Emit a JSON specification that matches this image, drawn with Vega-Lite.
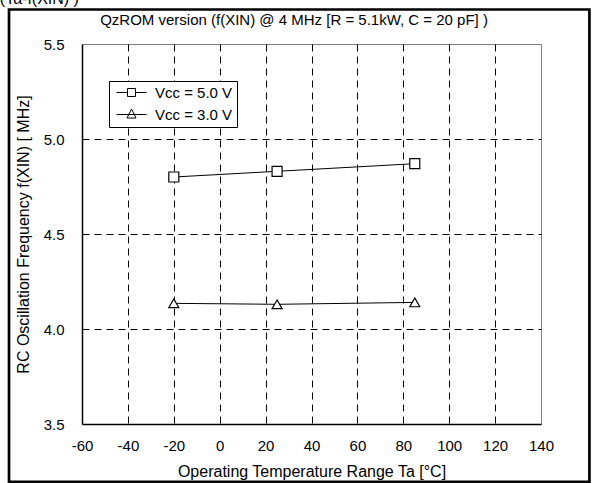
{
  "$schema": "https://vega.github.io/schema/vega-lite/v6.json",
  "width": 459,
  "height": 380,
  "autosize": "none",
  "padding": {"left": 82, "top": 44, "right": 52, "bottom": 59},
  "background": "white",
  "datasets": {
    "meas": [
      {"ta": -20, "f": 4.80, "series": "Vcc = 5.0 V"},
      {"ta": 25, "f": 4.83, "series": "Vcc = 5.0 V"},
      {"ta": 85, "f": 4.87, "series": "Vcc = 5.0 V"},
      {"ta": -20, "f": 4.135, "series": "Vcc = 3.0 V"},
      {"ta": 25, "f": 4.13, "series": "Vcc = 3.0 V"},
      {"ta": 85, "f": 4.14, "series": "Vcc = 3.0 V"}
    ]
  },
  "config": {
    "font": "Liberation Sans",
    "view": {"stroke": "#808080", "strokeWidth": 1},
    "axis": {
      "labelFont": "Liberation Sans",
      "titleFont": "Liberation Sans",
      "labelFontSize": 15,
      "titleFontSize": 16,
      "titleFontWeight": "normal",
      "labelColor": "black",
      "titleColor": "black",
      "labelFlush": false,
      "labelOverlap": false,
      "domainColor": "black",
      "domainWidth": 1.5,
      "ticks": false,
      "gridColor": "black",
      "gridDash": [7, 5],
      "gridWidth": 1
    }
  },
  "resolve": {"scale": {"shape": "independent"}, "legend": {"shape": "independent"}},
  "layer": [
    {
      "data": {"values": [{}]},
      "mark": {"type": "rect", "filled": false, "stroke": "black", "strokeWidth": 2.7, "clip": false},
      "encoding": {
        "x": {"datum": -91.8, "type": "quantitative"},
        "x2": {"datum": 161.1},
        "y": {"datum": 5.6816, "type": "quantitative"},
        "y2": {"datum": 3.195}
      }
    },
    {
      "data": {"values": [{}]},
      "mark": {"type": "text", "align": "left", "baseline": "alphabetic", "font": "Liberation Sans", "fontSize": 16, "color": "black", "clip": false},
      "encoding": {
        "x": {"datum": -95.8, "type": "quantitative"},
        "y": {"datum": 5.7105, "type": "quantitative"},
        "text": {"value": "(Ta-f(XIN) )"}
      }
    },
    {
      "data": {"values": [{}]},
      "mark": {"type": "text", "align": "center", "baseline": "alphabetic", "font": "Liberation Sans", "fontSize": 15, "color": "black", "clip": false},
      "encoding": {
        "x": {"datum": 32.4, "type": "quantitative"},
        "y": {"datum": 5.6, "type": "quantitative"},
        "text": {"value": "QzROM version (f(XIN) @ 4 MHz [R = 5.1kW, C = 20 pF] )"}
      }
    },
    {
      "data": {"name": "meas"},
      "mark": {"type": "line", "color": "black", "strokeWidth": 1},
      "encoding": {
        "x": {
          "field": "ta", "type": "quantitative",
          "scale": {"domain": [-60, 140], "nice": false, "zero": false},
          "axis": {
            "values": [-60, -40, -20, 0, 20, 40, 60, 80, 100, 120, 140],
            "labelExpr": "replace(datum.label, '\u2212', '-')",
            "title": "Operating Temperature Range Ta [°C]",
            "labelPadding": 14,
            "grid": true,
            "gridOpacity": {"condition": {"test": "datum.value == -60 || datum.value == 140", "value": 0}, "value": 1},
            "titleY": 52,
            "titleBaseline": "alphabetic"
          }
        },
        "y": {
          "field": "f", "type": "quantitative",
          "scale": {"domain": [3.5, 5.5], "nice": false, "zero": false},
          "axis": {
            "values": [3.5, 4.0, 4.5, 5.0, 5.5],
            "format": ".1f",
            "title": "RC Oscillation Frequency f(XIN)  [ MHz]",
            "labelPadding": 18,
            "grid": true,
            "gridOpacity": {"condition": {"test": "datum.value == 3.5 || datum.value == 5.5", "value": 0}, "value": 1},
            "titleX": -59,
            "titleY": 190,
            "titleAngle": -90,
            "titleAlign": "center",
            "titleBaseline": "middle"
          }
        },
        "detail": {"field": "series"}
      }
    },
    {
      "data": {"name": "meas"},
      "mark": {"type": "point", "filled": false, "stroke": "black", "strokeWidth": 1, "size": 100, "opacity": 0},
      "encoding": {
        "x": {"field": "ta", "type": "quantitative"},
        "y": {"field": "f", "type": "quantitative"},
        "shape": {
          "field": "series", "type": "nominal",
          "scale": {
            "domain": ["Vcc = 5.0 V", "Vcc = 3.0 V"],
            "range": ["M-0.8,0H1.4M3,0H5.2M1.4,-0.8H3V0.8H1.4Z", "M-0.8,0H5.2M2.2,-1.1L3.1,0.7H1.3Z"]
          },
          "legend": {
            "title": null,
            "orient": "none",
            "legendX": 27,
            "legendY": 37,
            "padding": 4,
            "strokeColor": "black",
            "fillColor": "white",
            "cornerRadius": 0,
            "labelFont": "Liberation Sans",
            "labelFontSize": 15,
            "labelColor": "black",
            "labelOffset": 27,
            "rowPadding": 6,
            "symbolSize": 100,
            "symbolStrokeColor": "black",
            "symbolFillColor": "white",
            "symbolStrokeWidth": 1,
            "symbolOpacity": 1
          }
        }
      }
    },
    {
      "data": {"name": "meas"},
      "mark": {"type": "point", "filled": true, "fill": "white", "stroke": "black", "strokeWidth": 1.2, "size": 100, "opacity": 1},
      "encoding": {
        "x": {"field": "ta", "type": "quantitative"},
        "y": {"field": "f", "type": "quantitative"},
        "shape": {
          "field": "series", "type": "nominal",
          "scale": {"domain": ["Vcc = 5.0 V", "Vcc = 3.0 V"], "range": ["square", "triangle-up"]},
          "legend": null
        }
      }
    }
  ]
}
